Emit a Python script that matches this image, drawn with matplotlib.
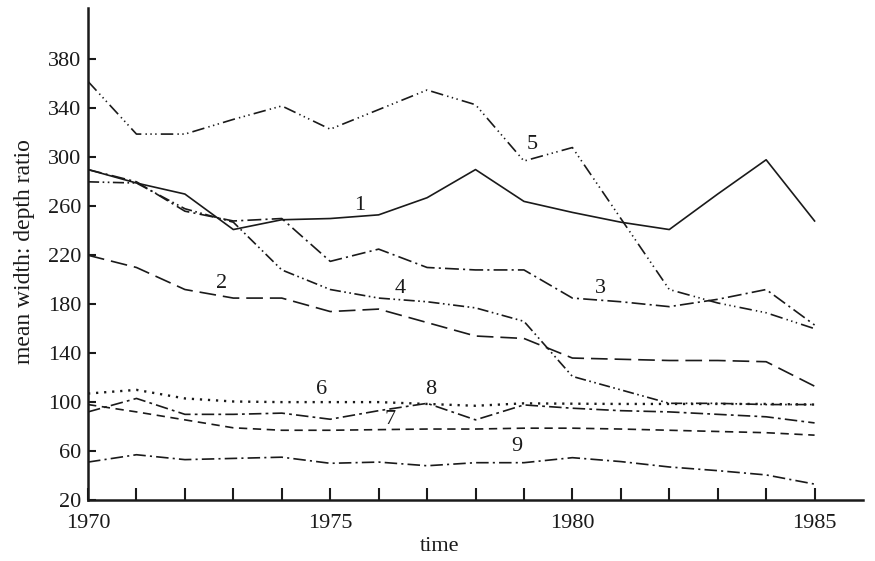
import matplotlib
matplotlib.use("Agg")
import matplotlib.pyplot as plt

years = list(range(1970, 1986))

s1 = [290, 279, 270, 241, 249, 250, 253, 267, 290, 264, 255, 247, 241, 270, 298, 248]
s2 = [220, 210, 192, 185, 185, 174, 176, 165, 154, 152, 136, 135, 134, 134, 133, 113]
s3 = [290, 280, 256, 248, 250, 215, 225, 210, 208, 208, 185, 182, 178, 184, 192, 163]
s4 = [280, 279, 258, 247, 208, 192, 185, 182, 177, 166, 121, 110, 99, 99, 98, 98]
s5 = [362, 319, 319, 331, 342, 323, 339, 355, 343, 297, 308, 250, 192, 181, 173, 160]
s6 = [107, 110, 103, 100.5, 100, 100, 100, 98.5, 97, 99, 98.7, 98.5, 98.5, 98.5, 98.5, 98]
s7 = [98, 92, 85.5, 79, 77, 77, 77.5, 78, 78, 78.7, 78.7, 78, 77, 76, 75, 73]
s8 = [92, 103, 90, 90, 91, 86, 93, 99, 85.5, 97.7, 95, 93, 92, 90, 88, 83]
s9 = [51, 57, 53, 54, 55, 50, 51, 48, 50.5, 50.5, 54.6, 51.4, 47, 44, 40.5, 33]

series_names = ["1", "2", "3", "4", "5", "6", "7", "8", "9"]
label_x = [1975.6, 1972.76, 1980.58, 1976.45, 1979.17, 1974.83, 1976.24, 1977.07, 1978.86]
label_y = [261, 197, 193, 193, 310.5, 110, 85.5, 110, 63.6]

yticks = [20, 60, 100, 140, 180, 220, 260, 300, 340, 380]
xticks_major = [1970, 1975, 1980, 1985]

plt.rcParams['font.family'] = ['Liberation Serif', 'DejaVu Serif']
plt.rcParams['lines.scale_dashes'] = False

ink = '#1a1a1a'
fig = plt.figure(figsize=(8.75, 5.61), dpi=100)
ax = fig.add_axes([0.1006, 0.1087, 0.8857, 0.877])

styles = [
    '-',
    (0, (12, 5)),
    (0, (10, 3, 1.5, 3)),
    (0, (8, 2.5, 1.2, 2.5, 1.2, 2.5)),
    (0, (9, 3, 1, 2.5, 1, 2.5, 1, 3)),
    (0, (1.6, 4.2)),
    (0, (6, 4)),
    (0, (9, 3, 2, 3)),
    (0, (9, 3, 1.5, 3)),
]
widths = [1.2, 1.2, 1.2, 1.2, 1.2, 1.7, 1.2, 1.2, 1.2]
data = [s1, s2, s3, s4, s5, s6, s7, s8, s9]
for vals, ls, w in zip(data, styles, widths):
    ax.plot(years, vals, color=ink, lw=w, linestyle=ls, dash_capstyle='butt')

for name, lx, ly in zip(series_names, label_x, label_y):
    ax.text(lx, ly, name, fontsize=16, color=ink, ha='center', va='center')

ax.set_xlim(1970, 1986)
ax.set_ylim(20, 422)
ax.spines['top'].set_visible(False)
ax.spines['right'].set_visible(False)
for sp in ['left', 'bottom']:
    ax.spines[sp].set_linewidth(1.8)
    ax.spines[sp].set_color(ink)

ax.set_yticks(yticks)
ax.set_yticklabels([str(v) for v in yticks])
ax.set_xticks(years)
ax.set_xticklabels([str(y) if y in xticks_major else '' for y in years])
ax.tick_params(axis='y', direction='in', length=6, width=1.5, pad=5, labelsize=16, colors=ink)
ax.tick_params(axis='x', direction='in', length=9, width=1.5, pad=10, labelsize=16, colors=ink)

ax.set_xlabel('time', fontsize=16, color=ink)
ax.xaxis.set_label_coords(0.454, -0.075)
ax.set_ylabel('mean width: depth ratio', fontsize=17, color=ink)
ax.yaxis.set_label_coords(-0.068, 0.505)

fig.savefig('out.png', dpi=100, facecolor='white')
